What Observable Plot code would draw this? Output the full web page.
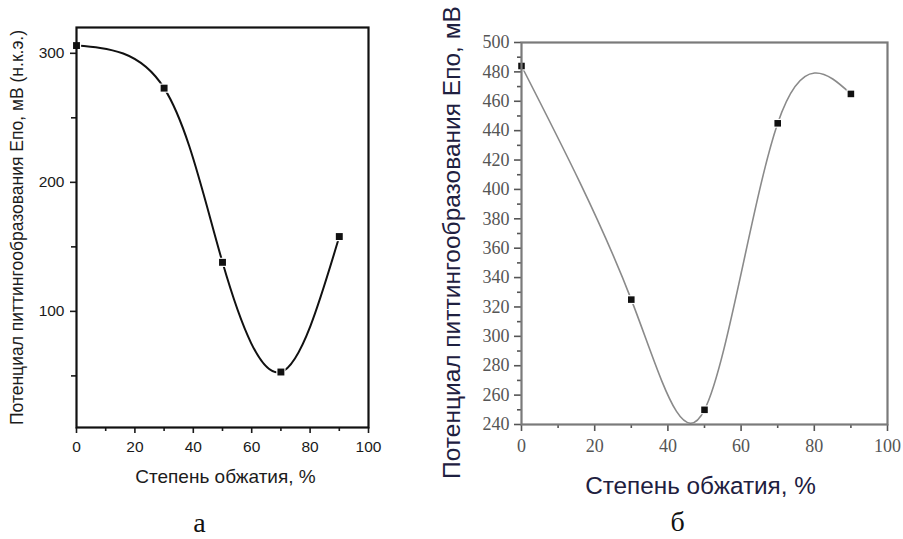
<!DOCTYPE html>
<html>
<head>
<meta charset="utf-8">
<script src="https://cdn.jsdelivr.net/npm/d3@7"></script>
<script src="https://cdn.jsdelivr.net/npm/@observablehq/plot@0.6"></script>
<style>
  html, body { margin: 0; padding: 0; background: #fff; }
  #wrap { position: relative; width: 903px; height: 539px; overflow: hidden; }
  #pa { position: absolute; left: 0; top: 0; }
  #pb { position: absolute; left: 420px; top: 0; }
</style>
</head>
<body>
<div id="wrap"><div id="pa"></div><div id="pb"></div></div>
<script>
// Panel а
const deformA = [0, 30, 50, 70, 90];
const potentialA = [306, 273, 138, 53, 158];
const xTicksA = [0, 20, 40, 60, 80, 100];
const xMinorA = [10, 30, 50, 70, 90];
const yTicksA = [100, 200, 300];
const yMinorA = [50, 150, 250];
const yLabelA = "Потенциал питтингообразования Епо, мВ (н.к.э.)";
const xLabelA = "Степень обжатия, %";
const captionA = "а";

// Panel б
const deformB = [0, 30, 50, 70, 90];
const potentialB = [484, 325, 250, 445, 465];
const xTicksB = [0, 20, 40, 60, 80, 100];
const xMinorB = [10, 30, 50, 70, 90];
const yTicksB = [240, 260, 280, 300, 320, 340, 360, 380, 400, 420, 440, 460, 480, 500];
const yMinorB = [250, 270, 290, 310, 330, 350, 370, 390, 410, 430, 450, 470, 490];
const yLabelB = "Потенциал питтингообразования Епо, мВ";
const xLabelB = "Степень обжатия, %";
const captionB = "б";

const dataA = deformA.map((d, i) => ({x: d, y: potentialA[i]}));
const dataB = deformB.map((d, i) => ({x: d, y: potentialB[i]}));

const sans = "Liberation Sans, Arial, sans-serif";
const serif = "Liberation Serif, Times New Roman, serif";

const plotA = Plot.plot({
  width: 420, height: 539,
  marginLeft: 76, marginRight: 52, marginTop: 27, marginBottom: 112,
  style: {fontFamily: sans, background: "white", overflow: "visible"},
  x: {domain: [0, 100]},
  y: {domain: [10, 320]},
  marks: [
    Plot.axisX({ticks: xTicksA, tickSize: 6, tickPadding: 7, label: null, strokeWidth: 1.6, color: "#1a1a1a", tickFormat: d => d}),
    Plot.axisX({ticks: xMinorA, tickSize: 4, tickFormat: () => "", label: null, strokeWidth: 1.6, color: "#1a1a1a"}),
    Plot.axisY({ticks: yTicksA, tickSize: 6, tickPadding: 6, label: null, strokeWidth: 1.6, color: "#1a1a1a"}),
    Plot.axisY({ticks: yMinorA, tickSize: 5, tickFormat: () => "", label: null, strokeWidth: 1.6, color: "#1a1a1a"}),
    Plot.line(dataA, {x: "x", y: "y", curve: "natural", stroke: "#111", strokeWidth: 2}),
    Plot.dot(dataA, {x: "x", y: "y", symbol: "square", r: 5.2, fill: "white", stroke: "none"}),
    Plot.dot(dataA, {x: "x", y: "y", symbol: "square", r: 3.9, fill: "#111", stroke: "none"}),
    Plot.frame({stroke: "#111", strokeWidth: 2.2}),
    Plot.text([yLabelA], {frameAnchor: "left", rotate: -90, dx: -59, dy: 0, fontSize: 17.5, fill: "#1c1c1c", textAnchor: "middle"}),
    Plot.text([xLabelA], {frameAnchor: "bottom", dx: 3, dy: 55, fontSize: 19, fill: "#1c1c1c"}),
    Plot.text([captionA], {frameAnchor: "bottom", dx: -23, dy: 104, fontSize: 28, fontFamily: serif, fill: "#111"})
  ]
});
document.getElementById("pa").appendChild(plotA);

const plotB = Plot.plot({
  width: 483, height: 539,
  marginLeft: 101, marginRight: 16, marginTop: 42, marginBottom: 115,
  style: {fontFamily: serif, background: "white", overflow: "visible"},
  x: {domain: [0, 100]},
  y: {domain: [240, 500]},
  marks: [
    Plot.axisX({ticks: xTicksB, tickSize: 7, tickPadding: 8, label: null, strokeWidth: 1.6, color: "#555", tickFormat: d => d}),
    Plot.axisX({ticks: xMinorB, tickSize: 4, tickFormat: () => "", label: null, strokeWidth: 1.6, color: "#555"}),
    Plot.axisY({ticks: yTicksB, tickSize: 7, tickPadding: 5, label: null, strokeWidth: 1.6, color: "#555"}),
    Plot.axisY({ticks: yMinorB, tickSize: 4, tickFormat: () => "", label: null, strokeWidth: 1.6, color: "#555"}),
    Plot.line(dataB, {x: "x", y: "y", curve: "natural", stroke: "#8a8a8a", strokeWidth: 1.6}),
    Plot.dot(dataB, {x: "x", y: "y", symbol: "square", r: 5, fill: "white", stroke: "none"}),
    Plot.dot(dataB, {x: "x", y: "y", symbol: "square", r: 3.7, fill: "#111", stroke: "none"}),
    Plot.frame({stroke: "#7a7a7a", strokeWidth: 2.2}),
    Plot.text([yLabelB], {frameAnchor: "left", rotate: -90, dx: -69, dy: 9, fontSize: 24.5, fontFamily: sans, fill: "#1e2040", textAnchor: "middle"}),
    Plot.text([xLabelB], {frameAnchor: "bottom", dx: -4, dy: 69, fontSize: 24.3, fontFamily: sans, fill: "#1e2040"}),
    Plot.text([captionB], {frameAnchor: "bottom", dx: -27, dy: 106, fontSize: 28, fontFamily: serif, fill: "#111"})
  ]
});
document.getElementById("pb").appendChild(plotB);

// style tick labels (axis text groups)
function styleTicks(svg, family, size, color) {
  d3.select(svg).selectAll("g").filter(function() {
    const l = this.getAttribute("aria-label") || "";
    return /axis tick label/.test(l);
  }).each(function() {
    d3.select(this).attr("font-family", family).attr("font-size", size)
      .style("font-family", family).style("font-size", size + "px");
    d3.select(this).selectAll("text").style("font-family", family).style("font-size", size + "px").style("fill", color);
  });
}
styleTicks(plotA, sans, 15.5, "#1a1a1a");
styleTicks(plotB, serif, 18, "#555");
</script>
</body>
</html>
